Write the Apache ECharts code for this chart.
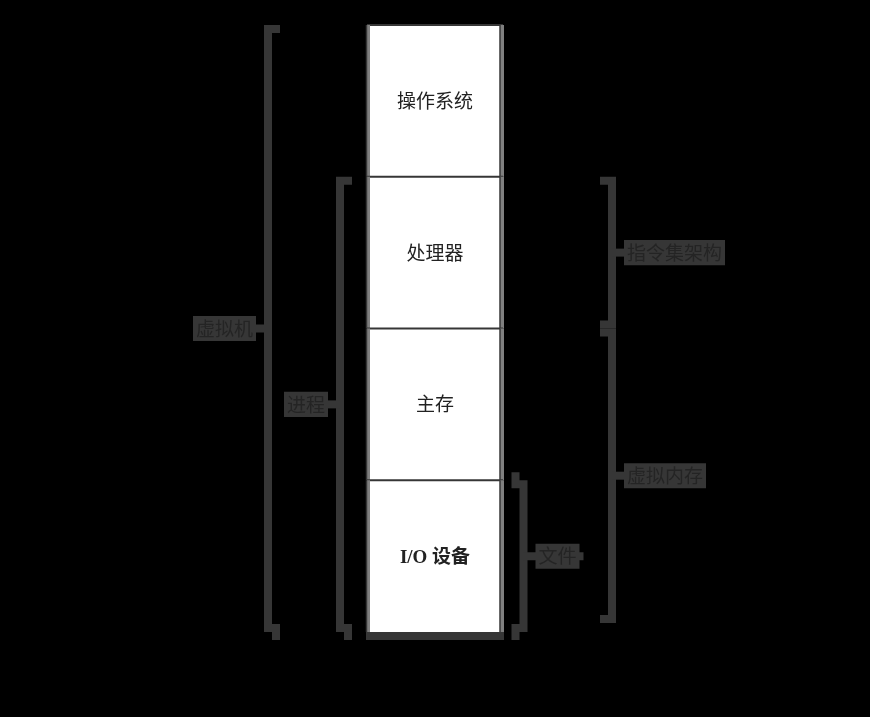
<!DOCTYPE html>
<html>
<head>
<meta charset="utf-8">
<title>计算机系统中的抽象</title>
<script src="https://cdn.jsdelivr.net/npm/echarts@6/dist/echarts.min.js"></script>
<style>
  html, body { margin: 0; padding: 0; background: #000; }
  #main { width: 870px; height: 717px; }
</style>
</head>
<body>
<div id="main"></div>
<script>
// 层次（从上到下）
var layers = ['操作系统', '处理器', '主存', 'I/O 设备'];

// 括号：名称、起止层（y 轴单位）
var braceNames = ['虚拟机', '进程', '指令集架构', '虚拟内存', '文件'];
var braceFrom = [0, 1, 1, 2, 3];
var braceTo = [4, 4, 2, 3.94, 4];

// 括号所在的列（x 轴单位）及标签在哪一侧
var braceLane = [26.8, 34.0, 61.2, 61.2, 52.35];
var braceSide = ['left', 'left', 'right', 'right', 'right'];

// 层所在的列
var columnFrom = 37;
var columnTo = 50;

var dark = '#363636';
var gray = '#808080';
// 括号两端是否带“弯钩”，以及中间短线的长度（样式）
var braceCurl = [[false, true], [false, true], [false, false], [false, false], [true, true]];
var tickLen = [12, 12, 12, 12, 60];

var chart = echarts.init(document.getElementById('main'));

function renderLayer(params, api) {
  var i = params.dataIndex;
  var p0 = api.coord([columnFrom, i]);
  var p1 = api.coord([columnTo, i + 1]);
  var x0 = p0[0], x1 = p1[0], y0 = p0[1], y1 = p1[1];
  var children = [
    { type: 'rect', shape: { x: x0, y: y0, width: x1 - x0, height: y1 - y0 }, style: { fill: '#fff' } },
    { type: 'line', shape: { x1: x0 - 3, y1: y0, x2: x1 + 3, y2: y0 }, style: { stroke: dark, lineWidth: 2 } },
    { type: 'line', shape: { x1: x0 - 1.5, y1: y0, x2: x0 - 1.5, y2: y1 }, style: { stroke: gray, lineWidth: 3 } },
    { type: 'line', shape: { x1: x0 - 3.5, y1: y0, x2: x0 - 3.5, y2: y1 }, style: { stroke: dark, lineWidth: 1.5 } },
    { type: 'line', shape: { x1: x1 + 2, y1: y0, x2: x1 + 2, y2: y1 }, style: { stroke: gray, lineWidth: 4 } },
    { type: 'line', shape: { x1: x1, y1: y0, x2: x1, y2: y1 }, style: { stroke: dark, lineWidth: 1.5 } },
    {
      type: 'text',
      x: (x0 + x1) / 2, y: (y0 + y1) / 2 + 2,
      style: {
        text: layers[i],
        fill: '#222',
        font: (layers[i].indexOf('/') >= 0 ? 'bold ' : '') + '19px "Liberation Serif", "Noto Sans CJK SC"',
        align: 'center', verticalAlign: 'middle'
      }
    }
  ];
  if (i === layers.length - 1) {
    children.push({ type: 'rect', shape: { x: x0 - 4, y: y1, width: x1 - x0 + 8, height: 8 }, style: { fill: dark } });
  }
  return { type: 'group', children: children };
}

function renderBrace(params, api) {
  var i = params.dataIndex;
  var top = api.coord([braceLane[i], braceFrom[i]]);
  var bot = api.coord([braceLane[i], braceTo[i]]);
  var x = top[0], t = top[1], b = bot[1], m = (t + b) / 2;
  var hd = braceSide[i] === 'left' ? 1 : -1;
  var pts = [];
  if (braceCurl[i][0]) {
    pts.push([x + hd * 8, t - 8], [x + hd * 8, t + 4], [x, t + 4]);
  } else {
    pts.push([x + hd * 12, t + 4], [x, t + 4]);
  }
  if (braceCurl[i][1]) {
    pts.push([x, b - 4], [x + hd * 8, b - 4], [x + hd * 8, b + 8]);
  } else {
    pts.push([x, b - 4], [x + hd * 12, b - 4]);
  }
  var lx = x - hd * 12;
  return {
    type: 'group',
    children: [
      { type: 'polyline', shape: { points: pts }, style: { stroke: dark, lineWidth: 8, fill: null, lineJoin: 'miter', lineCap: 'butt' } },
      { type: 'line', shape: { x1: x, y1: m, x2: x - hd * tickLen[i], y2: m }, style: { stroke: dark, lineWidth: 8 } },
      {
        type: 'text',
        x: lx, y: m,
        style: {
          text: braceNames[i],
          fill: '#242424',
          font: '19px "Noto Sans CJK SC"',
          align: hd === 1 ? 'right' : 'left',
          verticalAlign: 'middle',
          backgroundColor: dark,
          padding: [3, 3]
        }
      }
    ]
  };
}

chart.setOption({
  backgroundColor: '#000',
  animation: false,
  grid: { left: 0, right: 0, top: 25, bottom: 85 },
  xAxis: { type: 'value', min: 0, max: 87, show: false },
  yAxis: { type: 'value', min: 0, max: 4, inverse: true, show: false },
  series: [
    {
      type: 'custom',
      renderItem: renderLayer,
      data: layers.map(function (name, i) { return [columnFrom, i]; }),
      silent: true
    },
    {
      type: 'custom',
      renderItem: renderBrace,
      data: braceNames.map(function (name, i) { return [braceLane[i], braceFrom[i], braceTo[i]]; }),
      silent: true
    }
  ]
});
</script>
</body>
</html>
